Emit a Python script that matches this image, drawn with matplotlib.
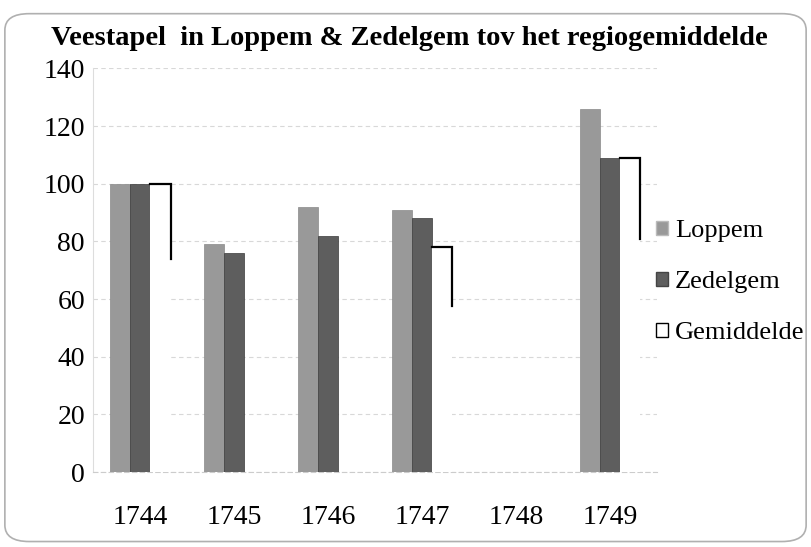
import numpy as np
import matplotlib.pyplot as plt
from matplotlib.patches import FancyBboxPatch, Patch

plt.rcParams['font.family'] = ['Liberation Serif', 'DejaVu Serif']

jaren = ['1744', '1745', '1746', '1747', '1748', '1749']
loppem = [100, 79, 92, 91, np.nan, 126]
zedelgem = [100, 76, 82, 88, np.nan, 109]
gemiddelde = [100, np.nan, np.nan, 78, np.nan, 109]

fig = plt.figure(figsize=(8.11, 5.47), dpi=100)
# afgeronde rand rond de grafiek
fig.patches.append(FancyBboxPatch((0.006, 0.01), 0.988, 0.965, boxstyle='round,pad=0,rounding_size=0.03',
                                  transform=fig.transFigure, fill=False, ec='#b0b0b0', lw=1.2))
ax = fig.add_axes([0.115, 0.137, 0.695, 0.738])

x = np.arange(len(jaren))
w = 0.215
ax.bar(x - w, loppem, w, color='#999999', edgecolor='#8a8a8a', lw=0.5, zorder=3)
ax.bar(x, zedelgem, w, color='#5e5e5e', edgecolor='#3a3a3a', lw=0.5, zorder=3)
gem = ax.bar(x + w, gemiddelde, w, color='white', edgecolor='none', zorder=3)
# alleen boven- en rechterrand zichtbaar (scan)
for p, v in zip(gem.patches, gemiddelde):
    if np.isnan(v):
        continue
    x0, x1 = p.get_x(), p.get_x() + p.get_width()
    ax.plot([x0, x1, x1], [v, v, v * 0.74], color='black', lw=1.6, zorder=4, solid_joinstyle='miter')

ax.set_ylim(0, 140)
ax.set_xlim(-0.5, len(jaren) - 0.5)
ax.set_yticks(range(0, 141, 20))
ax.set_xticks(x)
ax.set_xticklabels(jaren)
ax.tick_params(labelsize=20, length=0)
ax.tick_params(axis='x', pad=24)
ax.tick_params(axis='y', pad=6)
ax.grid(axis='y', color='#d8d8d8', ls=(0, (4, 3)), lw=0.8, zorder=0)
for s in ['top', 'right']:
    ax.spines[s].set_visible(False)
ax.spines['left'].set_color('#dddddd')
ax.spines['bottom'].set_color('#cccccc')
ax.spines['bottom'].set_linestyle((0, (4, 3)))

handles = [Patch(fc='#999999', ec='#bbbbbb'), Patch(fc='#5e5e5e', ec='#444444'), Patch(fc='white', ec='black')]
fig.legend(handles, ['Loppem', 'Zedelgem', 'Gemiddelde'], loc='center left', bbox_to_anchor=(0.793, 0.484),
           frameon=False, fontsize=19, handlelength=0.45, handleheight=0.45, handletextpad=0.25,
           labelspacing=1.1, borderpad=0)

fig.text(0.505, 0.93, 'Veestapel  in Loppem & Zedelgem tov het regiogemiddelde', ha='center', va='center',
         fontsize=20.5, fontweight='bold')

fig.savefig('out.png', dpi=100)
